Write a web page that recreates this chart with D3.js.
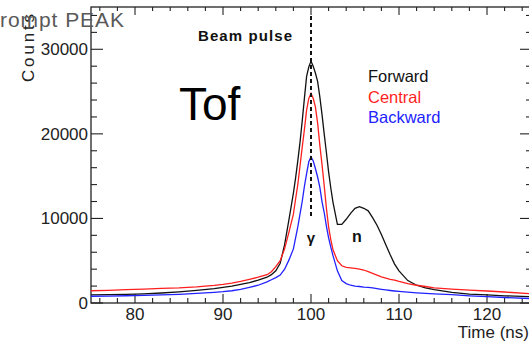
<!DOCTYPE html>
<html>
<head>
<meta charset="utf-8">
<script src="https://cdn.jsdelivr.net/npm/d3@7/dist/d3.min.js"></script>
<style>
  body { margin: 0; background: #fff; }
  svg { display: block; font-family: "Liberation Sans", Arial, sans-serif; }
</style>
</head>
<body>
<svg id="chart" width="529" height="345"></svg>
<script>
// time bins (ns)
var times = [75, 77, 79, 81, 83, 85, 87, 89, 90, 91, 92, 93, 94, 95, 95.5, 96, 96.5, 97, 97.5, 98,
  98.25, 98.5, 98.75, 99, 99.25, 99.5, 99.75, 100, 100.25, 100.5, 100.75, 101, 101.25, 101.5, 101.75,
  102, 102.25, 102.5, 103, 103.5, 104, 104.5, 105, 105.5, 106, 106.5, 107, 107.5, 108, 108.5, 109,
  109.5, 110, 111, 112, 113, 114, 116, 118, 120, 122, 125];

var forward = [950, 980, 1020, 1080, 1180, 1320, 1500, 1700, 1850, 2000, 2200, 2420, 2700, 3050, 3350, 3800, 4700, 6900, 9900, 13000,
  14800, 16800, 19000, 21500, 24200, 26800, 27900, 28600, 28000, 27200, 26200, 24400, 22300, 20000, 17800,
  15500, 13600, 11900, 9300, 9300, 9900, 10600, 11200, 11400, 11200, 10900, 10100, 9200, 8100, 6900, 5700,
  4600, 3800, 2650, 2100, 1800, 1580, 1250, 1050, 950, 850, 750];

var central = [1450, 1500, 1580, 1650, 1720, 1780, 1900, 2080, 2200, 2350, 2550, 2800, 3050, 3350, 3700, 4300, 5000, 6400, 8400, 10500,
  12300, 14000, 16200, 18400, 20500, 22800, 24200, 24800, 24200, 23200, 21300, 18700, 16400, 13900, 11200,
  9000, 7500, 6300, 5000, 4400, 4200, 4150, 4100, 4000, 3900, 3700, 3500, 3300, 3100, 2950, 2800,
  2700, 2550, 2300, 2100, 1950, 1800, 1650, 1520, 1420, 1300, 1100];

var backward = [800, 820, 860, 900, 960, 1030, 1130, 1260, 1340, 1450, 1620, 1850, 2100, 2500, 2750, 3000, 3300, 4000, 5100, 6400,
  7700, 9000, 10500, 12000, 13800, 15300, 16700, 17300, 16800, 15900, 14900, 13700, 12000, 10700, 9100,
  7700, 6600, 5600, 3800, 2650, 2300, 2100, 2000, 1950, 1880, 1850, 1780, 1700, 1620, 1550, 1480,
  1420, 1370, 1280, 1200, 1130, 1080, 980, 850, 750, 650, 520];

var seriesNames = ["Forward", "Central", "Backward"];
var seriesColors = ["#111111", "#ff1f1f", "#2222ff"];
var xTicks = [80, 90, 100, 110, 120];
var yTicks = [0, 10000, 20000, 30000];

var svg = d3.select("#chart");
var padL = 91, padR = 531, padT = 7, padB = 303;

var x = d3.scaleLinear().domain([75, 125]).range([padL, padR]);
var y = d3.scaleLinear().domain([0, 35000]).range([padB, padT]);

var axisColor = "#222";

// frame
svg.append("rect")
  .attr("x", padL).attr("y", padT)
  .attr("width", padR - padL).attr("height", padB - padT)
  .attr("fill", "none").attr("stroke", axisColor).attr("stroke-width", 1.3);

// ticks, all pointing inward
var xMinor = d3.range(76, 125, 2);
var yMinor = d3.range(0, 35001, 2000);

var g = svg.append("g").attr("stroke", axisColor).attr("stroke-width", 1.1);
xMinor.forEach(function(t) {
  var major = xTicks.indexOf(t) >= 0;
  g.append("line").attr("x1", x(t)).attr("x2", x(t)).attr("y1", padB).attr("y2", padB - (major ? 9 : 5));
  g.append("line").attr("x1", x(t)).attr("x2", x(t)).attr("y1", padT).attr("y2", padT + (major ? 8 : 4));
});
yMinor.forEach(function(v) {
  var major = v % 10000 === 0;
  g.append("line").attr("x1", padL).attr("x2", padL + (major ? 12 : 6)).attr("y1", y(v)).attr("y2", y(v));
  g.append("line").attr("x1", padR).attr("x2", padR - (major ? 11 : 5)).attr("y1", y(v)).attr("y2", y(v));
});

// tick labels
svg.append("g").selectAll("text").data(xTicks).enter().append("text")
  .attr("x", function(d) { return x(d); })
  .attr("y", 320)
  .attr("text-anchor", "middle")
  .attr("font-size", 17)
  .attr("fill", "#222")
  .text(function(d) { return d; });

svg.append("g").selectAll("text").data(yTicks).enter().append("text")
  .attr("x", 88)
  .attr("y", function(d) { return y(d) + 6; })
  .attr("text-anchor", "end")
  .attr("font-size", 17)
  .attr("fill", "#222")
  .text(function(d) { return d; });

// axis titles
svg.append("text")
  .attr("x", 529).attr("y", 338)
  .attr("text-anchor", "end")
  .attr("font-size", 17)
  .attr("fill", "#222")
  .text("Time (ns)");

svg.append("text")
  .attr("transform", "translate(34,14) rotate(-90)")
  .attr("text-anchor", "end")
  .attr("font-size", 17)
  .attr("textLength", 68).attr("lengthAdjust", "spacing")
  .attr("fill", "#222")
  .text("Counts");

// curves
var line = d3.line()
  .x(function(d) { return x(d[0]); })
  .y(function(d) { return y(d[1]); });

[forward, central, backward].forEach(function(vals, i) {
  svg.append("path")
    .datum(times.map(function(t, j) { return [t, vals[j]]; }))
    .attr("fill", "none")
    .attr("stroke", seriesColors[i])
    .attr("stroke-width", 1.3)
    .attr("d", line);
});

// beam pulse marker
svg.append("line")
  .attr("x1", x(100)).attr("x2", x(100))
  .attr("y1", 16).attr("y2", 218)
  .attr("stroke", "#111").attr("stroke-width", 2)
  .attr("stroke-dasharray", "4,3");

svg.append("text")
  .attr("x", 198).attr("y", 41)
  .attr("font-size", 15).attr("font-weight", "bold")
  .attr("textLength", 94).attr("lengthAdjust", "spacing")
  .attr("fill", "#111")
  .text("Beam pulse");

svg.append("text")
  .attr("x", x(100)).attr("y", 243)
  .attr("text-anchor", "middle")
  .attr("font-size", 15).attr("font-weight", "bold")
  .attr("fill", "#111")
  .text("γ");

svg.append("text")
  .attr("x", 357).attr("y", 242)
  .attr("text-anchor", "middle")
  .attr("font-size", 16).attr("font-weight", "bold")
  .attr("fill", "#111")
  .text("n");

// legend
seriesNames.forEach(function(name, i) {
  svg.append("text")
    .attr("x", 368).attr("y", 82 + i * 20.5)
    .attr("font-size", 16.5)
    .attr("fill", seriesColors[i])
    .text(name);
});

// overlay texts
svg.append("text")
  .attr("x", 179).attr("y", 120)
  .attr("font-size", 46)
  .attr("fill", "#000")
  .text("Tof");

// slide caption, its first letter runs off the left edge
svg.append("text")
  .attr("x", -15).attr("y", 27)
  .attr("font-size", 21)
  .attr("textLength", 139).attr("lengthAdjust", "spacing")
  .attr("fill", "#595959")
  .text("Prompt PEAK");
</script>
</body>
</html>
